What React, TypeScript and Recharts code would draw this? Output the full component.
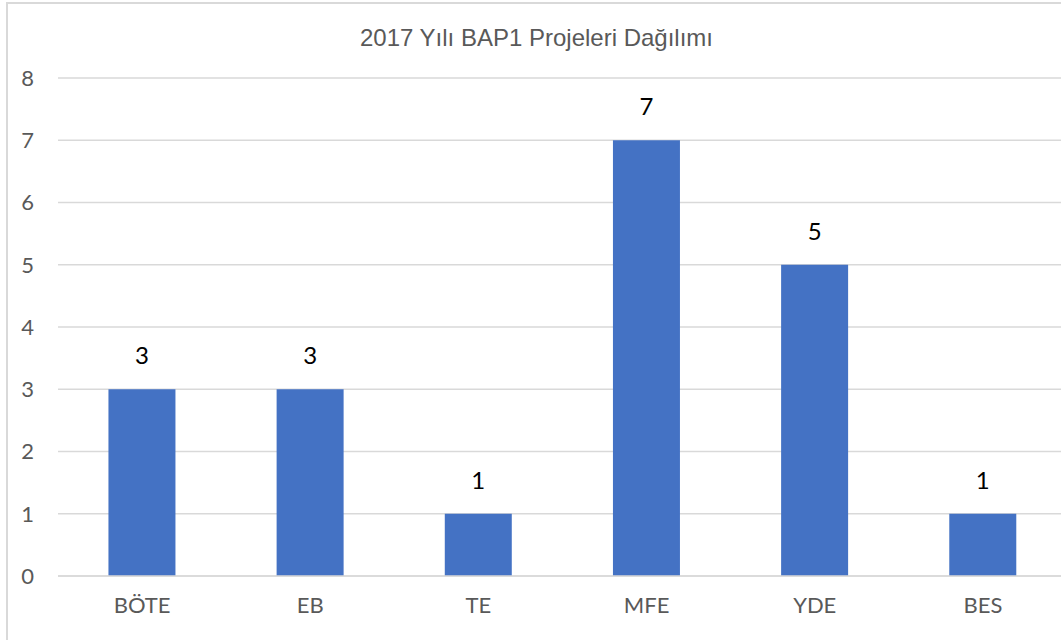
import { Bar, BarChart, CartesianGrid, LabelList, XAxis, YAxis } from "recharts";

const categories = ["BÖTE", "EB", "TE", "MFE", "YDE", "BES"];
const projects = [3, 3, 1, 7, 5, 1];
const yTicks = [0, 1, 2, 3, 4, 5, 6, 7, 8];

const data = categories.map((name, i) => ({ name, value: projects[i] }));

const tickFont = { fill: "#595959", fontSize: 22, fontFamily: "Lato, 'Open Sans', sans-serif" };

export default function App() {
  return (
    <div
      style={{
        position: "absolute",
        left: 0,
        top: 0,
        width: 1061,
        height: 640,
        overflow: "hidden",
        background: "#fff",
      }}
    >
      {/* chart frame, cropped on the right and bottom like the source */}
      <div
        style={{
          position: "absolute",
          left: 6,
          top: 2,
          width: 1100,
          height: 700,
          border: "2px solid #d9d9d9",
          boxSizing: "border-box",
        }}
      />
      <div
        style={{
          position: "absolute",
          left: 7,
          width: 1059,
          top: 24,
          textAlign: "center",
          fontFamily: "'Liberation Sans', Arial, sans-serif",
          fontSize: 24,
          color: "#595959",
        }}
      >
        2017 Yılı BAP1 Projeleri Dağılımı
      </div>
      <div style={{ position: "absolute", left: 0, top: 0 }}>
        <BarChart
          width={1080}
          height={640}
          data={data}
          margin={{ top: 78, right: 13, bottom: 0, left: 0 }}
          barCategoryGap="30%"
        >
          <CartesianGrid vertical={false} stroke="#d9d9d9" strokeWidth={1.5} />
          <XAxis
            dataKey="name"
            axisLine={{ stroke: "#d9d9d9", strokeWidth: 1.5 }}
            tickLine={false}
            tick={tickFont}
            tickSize={6}
            tickMargin={15}
            height={64}
          />
          <YAxis
            domain={[0, 8]}
            ticks={yTicks}
            axisLine={false}
            tickLine={false}
            tick={tickFont}
            tickSize={6}
            tickMargin={18}
            width={58}
            interval={0}
          />
          <Bar dataKey="value" fill="#4472c4" isAnimationActive={false}>
            <LabelList
              dataKey="value"
              position="top"
              offset={25}
              fill="#000"
              fontSize={24}
              fontFamily="Lato, 'Open Sans', sans-serif"
            />
          </Bar>
        </BarChart>
      </div>
    </div>
  );
}
